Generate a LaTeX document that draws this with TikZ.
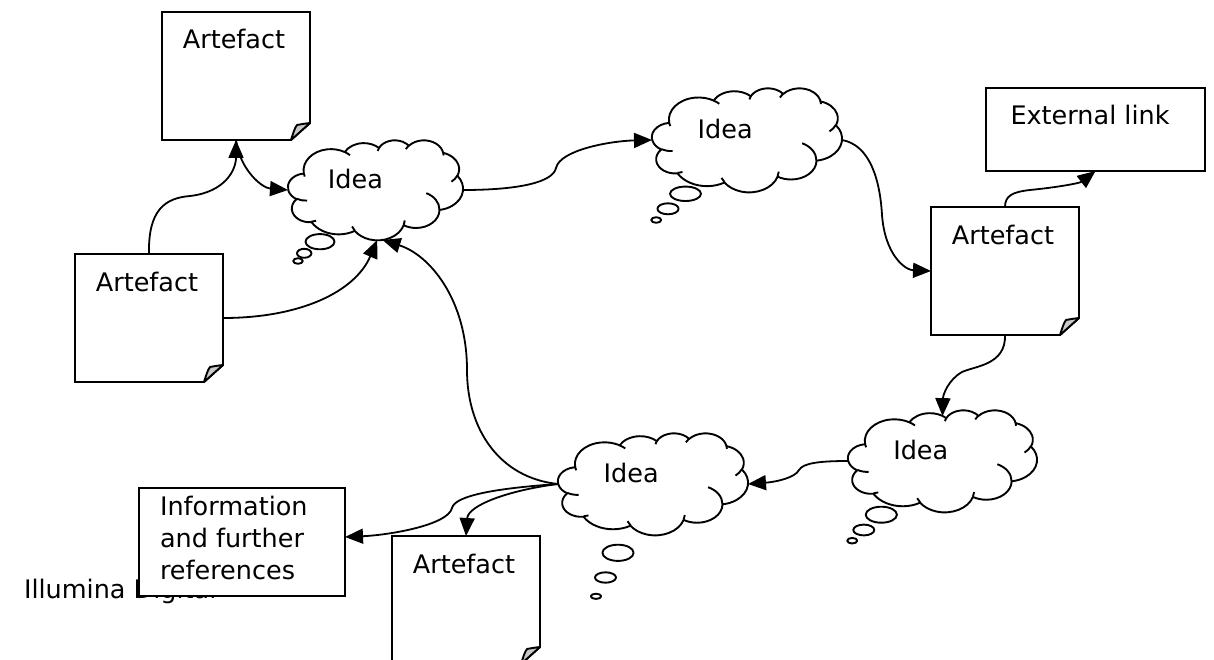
\documentclass[tikz,border=0pt]{standalone}
\usepackage{fontspec}
\setmainfont{DejaVu Sans}
\usetikzlibrary{arrows.meta}
\definecolor{foldgray}{RGB}{200,200,200}
% DrawingML visual angle -> parametric angle
\pgfmathdeclarefunction{vis}{3}{%
  \pgfmathparse{atan2((#2)*sin(#1),(#3)*cos(#1))-(#1)}%
  \let\visd\pgfmathresult
  \pgfmathparse{(#1)+\visd-360*round(\visd/360)}%
}
\tikzset{
  puff/.style n args={4}{x radius=#1, y radius=#2,
    start angle={vis(#3,#1,#2)}, end angle={vis(#3+#4,#1,#2)}},
  cloudline/.style={line width=1.9pt, line join=round},
  boxline/.style={line width=1.9pt, line join=miter},
  artnode/.style={draw=none, inner sep=0pt, outer sep=0pt, minimum width=148pt, minimum height=128pt},
  plainbox/.style={draw, line width=1.9pt, fill=white, inner sep=0pt, outer sep=0pt},
  lbl/.style={font=\fontsize{25.5}{32}\selectfont, inner sep=0pt, outer sep=0pt},
  conn/.style={line width=1.8pt, -{Triangle[length=18pt,width=15pt]}},
  pics/ideacloud/.style={code={
    \draw[cloudline, fill=white] (9.028,33.264)
      arc[puff={15.632}{21.273}{-190.487}{123.781}]
      arc[puff={12.345}{16.822}{-144.102}{89.945}]
      arc[puff={10.104}{13.762}{-145.808}{99.723}]
      arc[puff={11.243}{15.266}{-130.986}{117.242}]
      arc[puff={12.345}{16.836}{-78.709}{109.027}]
      arc[puff={15.683}{21.343}{-46.267}{130.269}]
      arc[puff={13.391}{18.211}{0.625}{114.033}]
      arc[puff={15.630}{21.331}{22.452}{115.173}]
      arc[puff={17.870}{24.405}{66.243}{75.711}]
      arc[puff={10.093}{13.699}{-274.942}{146.736}]
      arc[puff={10.058}{13.762}{-246.829}{152.519}]
      -- cycle;
    \draw[cloudline]
      (10.863,60.595) arc[puff={10.058}{13.762}{86.742}{26.430}]
      (16.037,80.785) arc[puff={10.093}{13.699}{73.610}{11.447}]
      (38.144,90.486) arc[puff={15.630}{21.331}{137.624}{14.081}]
      (66.729,80.442) arc[puff={15.630}{21.331}{6.453}{15.998}]
      (79.002,53.134) arc[puff={13.391}{18.211}{-70.292}{70.917}]
      (96.755,35.542) arc[puff={12.345}{16.836}{30.318}{27.752}]
      (88.713,12.560) arc[puff={11.243}{15.266}{-13.744}{14.859}]
      (67.310,9.148) arc[puff={11.243}{15.266}{-149.181}{18.195}]
      (51.252,10.926) arc[puff={10.104}{13.762}{-163.494}{17.686}]
      (32.407,12.019) arc[puff={15.632}{21.273}{-66.707}{12.319}]
      (9.553,36.549) arc[puff={15.632}{21.273}{157.654}{11.858}];
    \node[lbl, anchor=base] (-t) at (38.5,48.5) {Idea};
    \coordinate (-W) at (0,50);
    \coordinate (-E) at (100,50);
    \coordinate (-N) at (50,6);
    \coordinate (-S1) at (51,100);
    \coordinate (-S2) at (54,100);
  }}
}
\newcommand\artefact[3]{%
  \node[artnode, anchor=north west] (#1) at (#2,#3) {};
  \draw[boxline, fill=white] (#1.north west) -- (#1.north east)
    -- ([yshift=17pt]#1.south east) -- ([xshift=-19pt]#1.south east)
    -- (#1.south west) -- cycle;
  \draw[boxline, line join=round, fill=foldgray] ([xshift=-19pt]#1.south east)
    .. controls ([xshift=-17pt,yshift=6pt]#1.south east) and ([xshift=-15.5pt,yshift=12pt]#1.south east)
    .. ([xshift=-13pt,yshift=15pt]#1.south east)
    .. controls ([xshift=-8pt,yshift=16pt]#1.south east) and ([xshift=-4pt,yshift=16.5pt]#1.south east)
    .. ([yshift=17pt]#1.south east) -- cycle;
  \node[lbl, anchor=base] (#1-t) at ([xshift=-2pt,yshift=-37pt]#1.north) {Artefact};
}
\begin{document}
\begin{tikzpicture}[x=1pt,y=-1pt]
\useasboundingbox (0,0) rectangle (1214,660);
\fill[white] (0,0) rectangle (1214,660);

% footer text (partly covered by the information box)
\node[lbl, anchor=base west] (ill) at (24,598) {Illumina Digital};

% boxes
\node[plainbox, anchor=north west, minimum width=206pt, minimum height=108pt] (info) at (139,488) {};
\node[lbl, anchor=base west] (info1) at (160,515) {Information};
\node[lbl, anchor=base west] (info2) at (160,547) {and further};
\node[lbl, anchor=base west] (info3) at (160,579) {references};

\node[plainbox, anchor=north west, minimum width=219pt, minimum height=83pt] (ext) at (986,88) {};
\node[lbl, anchor=base] (extt) at (1090,125) {External link};

\artefact{a1}{162}{12}
\artefact{a2}{75}{254}
\artefact{a3}{931}{207}
\artefact{a4}{392}{536}

% clouds
\begin{scope}[shift={(288,140)}, x=1.75pt, y=-1pt]
  \pic (c1) {ideacloud};
\end{scope}
\begin{scope}[shift={(652,88)}, x=1.9pt, y=-1.04pt]
  \pic (c2) {ideacloud};
\end{scope}
\begin{scope}[shift={(848,410)}, x=1.89pt, y=-1.02pt]
  \pic (c3) {ideacloud};
\end{scope}
\begin{scope}[shift={(558,433)}, x=1.9pt, y=-1.02pt]
  \pic (c4) {ideacloud};
\end{scope}

% thought bubbles
\draw[cloudline, fill=white] (320,241.7) ellipse [x radius=14.5, y radius=7.6];
\draw[cloudline, fill=white] (304.2,253.3) ellipse [x radius=7.2, y radius=4.5];
\draw[cloudline, fill=white] (298,261) ellipse [x radius=4.8, y radius=2.8];

\draw[cloudline, fill=white] (685.5,193.8) ellipse [x radius=15.5, y radius=7.2];
\draw[cloudline, fill=white] (668,208.8) ellipse [x radius=10.6, y radius=5.5];
\draw[cloudline, fill=white] (656.2,220) ellipse [x radius=5, y radius=2.8];

\draw[cloudline, fill=white] (881.3,514.7) ellipse [x radius=15.6, y radius=8];
\draw[cloudline, fill=white] (863.8,530) ellipse [x radius=10.5, y radius=5.4];
\draw[cloudline, fill=white] (852.2,540.7) ellipse [x radius=5, y radius=2.8];

\draw[cloudline, fill=white] (618,552.8) ellipse [x radius=15.6, y radius=8.1];
\draw[cloudline, fill=white] (605.5,577.5) ellipse [x radius=10.5, y radius=5.2];
\draw[cloudline, fill=white] (596,596.3) ellipse [x radius=5.2, y radius=2.6];

% connectors
\draw[conn] (a2.north) .. controls (148,210) and (165,198) .. (190,196)
  .. controls (225,192) and (236,170) .. (a1.south);
\draw[conn] (a1.south) .. controls (240,170) and (262,188) .. (c1-W);
\draw[conn] (a2.east) .. controls (300,318) and (355,292) .. (c1-S1);
\draw[conn] (c1-E) .. controls (520,190) and (553,182) .. (556,168)
  .. controls (560,150) and (610,141) .. (c2-W);
\draw[conn] (c2-E) .. controls (870,145) and (880,180) .. (882,215)
  .. controls (885,255) and (905,270) .. (a3.west);
\draw[conn] (a3.north) .. controls (1005,196) and (1012,192) .. (1030,190)
  .. controls (1060,187) and (1080,183) .. (ext.south);
\draw[conn] (a3.south) .. controls (1006,365) and (975,366) .. (962,372)
  .. controls (948,380) and (943,395) .. (c3-N);
\draw[conn] (c3-W) .. controls (820,461) and (803,463) .. (799,470)
  .. controls (795,478) and (775,482) .. (c4-E);
\draw[conn] (c4-W) .. controls (500,478) and (467,430) .. (467,370)
  .. controls (467,300) and (430,255) .. (c1-S2);
\draw[conn] (c4-W) .. controls (500,488) and (455,495) .. (452,508)
  .. controls (448,525) and (390,535) .. ([yshift=5pt]info.east);
\draw[conn] (c4-W) .. controls (510,490) and (468,505) .. (a4.north);
\end{tikzpicture}
\end{document}
